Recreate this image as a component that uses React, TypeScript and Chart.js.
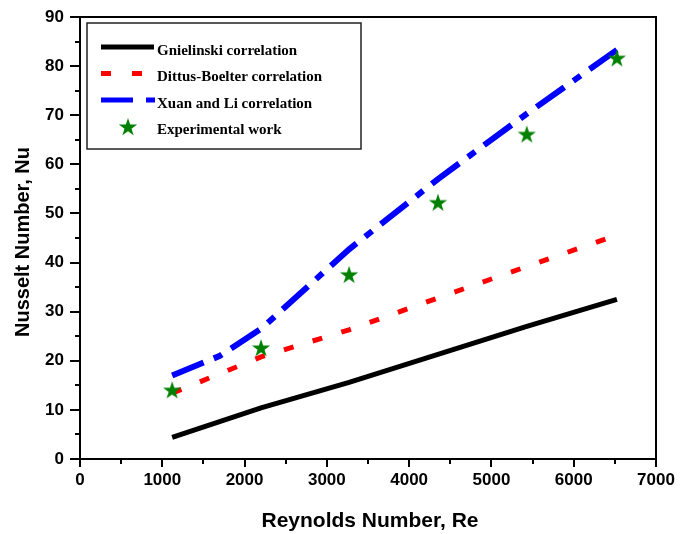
import React, { useEffect, useRef } from "react";
import { Chart, registerables } from "chart.js";

Chart.register(...registerables);

// Reynolds numbers of the test runs
const reynolds = [1120, 2200, 3270, 4350, 5430, 6525];
// Correlation predictions at the same Reynolds numbers
const gnielinski = [4.4, 10.4, 15.6, 21.3, 27.0, 32.5];
const dittusBoelter = [13.4, 20.8, 26.3, 32.8, 39.2, 45.6];
// Xuan and Li correlation (evaluated on a slightly finer Re grid)
const xuanLiRe = [1120, 1700, 2200, 3270, 4350, 5430, 6525];
const xuanLi = [17.0, 21.0, 26.5, 42.7, 57.0, 70.3, 83.3];
// Measured Nusselt numbers
const experimental = [14.0, 22.6, 37.5, 52.2, 66.1, 81.6];

// Axis ticks
const reTicks = [0, 1000, 2000, 3000, 4000, 5000, 6000, 7000];
const reMinorTicks = [500, 1500, 2500, 3500, 4500, 5500, 6500];
const nuTicks = [0, 10, 20, 30, 40, 50, 60, 70, 80, 90];
const nuMinorTicks = [5, 15, 25, 35, 45, 55, 65, 75, 85];

const legendItems = [
  "Gnielinski correlation",
  "Dittus-Boelter correlation",
  "Xuan and Li correlation",
  "Experimental work",
];

const GREEN = "#008000";
const SANS = "'Liberation Sans', Arial, sans-serif";
const SERIF = "'Liberation Serif', 'Times New Roman', serif";

function makeStar(): HTMLCanvasElement {
  const c = document.createElement("canvas");
  c.width = 22;
  c.height = 22;
  const ctx = c.getContext("2d")!;
  const R = 9.6;
  const r = R * 0.382;
  const cx = 11;
  const cy = 11.5;
  ctx.beginPath();
  for (let i = 0; i < 10; i++) {
    const rad = i % 2 === 0 ? R : r;
    const a = -Math.PI / 2 + (i * Math.PI) / 5;
    const x = cx + rad * Math.cos(a);
    const y = cy + rad * Math.sin(a);
    if (i === 0) ctx.moveTo(x, y);
    else ctx.lineTo(x, y);
  }
  ctx.closePath();
  ctx.fillStyle = GREEN;
  ctx.fill();
  return c;
}

const pairs = (xs: number[], ys: number[]) => xs.map((x, i) => ({ x, y: ys[i] }));

export default function App() {
  const canvasRef = useRef<HTMLCanvasElement | null>(null);

  useEffect(() => {
    const canvas = canvasRef.current;
    if (!canvas) return;
    const star = makeStar();

    const decorations = {
      id: "decorations",
      afterDraw(chart: any) {
        const ctx = chart.ctx as CanvasRenderingContext2D;
        const { left, right, top, bottom } = chart.chartArea;
        const xs = chart.scales.x;
        const ys = chart.scales.y;
        ctx.save();

        // top and right frame
        ctx.strokeStyle = "#000";
        ctx.lineWidth = 2;
        ctx.beginPath();
        ctx.moveTo(left, top);
        ctx.lineTo(right, top);
        ctx.lineTo(right, bottom);
        ctx.stroke();

        // minor ticks
        ctx.lineWidth = 2;
        ctx.beginPath();
        reMinorTicks.forEach((v) => {
          const px = Math.round(xs.getPixelForValue(v));
          ctx.moveTo(px, bottom);
          ctx.lineTo(px, bottom + 5);
        });
        nuMinorTicks.forEach((v) => {
          const py = Math.round(ys.getPixelForValue(v));
          ctx.moveTo(left - 5, py);
          ctx.lineTo(left, py);
        });
        ctx.stroke();

        // axis titles
        ctx.fillStyle = "#000";
        ctx.textAlign = "center";
        ctx.textBaseline = "middle";
        ctx.font = `bold 21px ${SANS}`;
        ctx.fillText("Reynolds Number, Re", (left + right) / 2 + 2, 521);
        ctx.save();
        ctx.translate(23, 242);
        ctx.rotate(-Math.PI / 2);
        ctx.font = `bold 20px ${SANS}`;
        ctx.fillText("Nusselt Number, Nu", 0, 0);
        ctx.restore();

        // legend box
        ctx.fillStyle = "#fff";
        ctx.fillRect(87, 23, 274, 126);
        ctx.strokeStyle = "#222";
        ctx.lineWidth = 1.5;
        ctx.strokeRect(87, 23, 274, 126);

        const sampleY = [47, 73.5, 100, 127];
        const textY = [54.5, 81, 107.5, 134];
        ctx.lineWidth = 5;
        ctx.lineCap = "butt";
        // Gnielinski sample
        ctx.strokeStyle = "#000";
        ctx.beginPath();
        ctx.moveTo(101, sampleY[0]);
        ctx.lineTo(154, sampleY[0]);
        ctx.stroke();
        // Dittus-Boelter sample
        ctx.strokeStyle = "#ff0000";
        ctx.beginPath();
        ctx.moveTo(101, sampleY[1]);
        ctx.lineTo(111, sampleY[1]);
        ctx.moveTo(132, sampleY[1]);
        ctx.lineTo(142, sampleY[1]);
        ctx.stroke();
        // Xuan and Li sample
        ctx.strokeStyle = "#0000ff";
        ctx.beginPath();
        ctx.moveTo(101, sampleY[2]);
        ctx.lineTo(133, sampleY[2]);
        ctx.moveTo(146, sampleY[2]);
        ctx.lineTo(155, sampleY[2]);
        ctx.stroke();
        // Experimental sample
        ctx.drawImage(star, 128 - 11, sampleY[3] - 11);

        ctx.fillStyle = "#000";
        ctx.textAlign = "left";
        ctx.textBaseline = "alphabetic";
        ctx.font = `bold 15px ${SERIF}`;
        legendItems.forEach((label, i) => {
          ctx.fillText(label, 157, textY[i]);
        });

        ctx.restore();
      },
    };

    const chart = new Chart(canvas, {
      type: "line",
      data: {
        datasets: [
          {
            label: legendItems[0],
            data: pairs(reynolds, gnielinski),
            borderColor: "#000",
            borderWidth: 5,
            pointRadius: 0,
            fill: false,
            order: 2,
          },
          {
            label: legendItems[1],
            data: pairs(reynolds, dittusBoelter),
            borderColor: "#ff0000",
            borderWidth: 5,
            borderDash: [10, 20],
            pointRadius: 0,
            fill: false,
            order: 2,
          },
          {
            label: legendItems[2],
            data: pairs(xuanLiRe, xuanLi),
            borderColor: "#0000ff",
            borderWidth: 6,
            borderDash: [34, 11, 9, 11],
            pointRadius: 0,
            fill: false,
            order: 2,
          },
          {
            label: legendItems[3],
            data: pairs(reynolds, experimental),
            showLine: false,
            pointStyle: star as any,
            pointRadius: 10,
            borderColor: GREEN,
            backgroundColor: GREEN,
            order: 0,
          },
        ] as any,
      },
      options: {
        responsive: false,
        animation: false,
        devicePixelRatio: 1,
        layout: { padding: { top: 17, right: 24, left: 0, bottom: 0 } },
        plugins: {
          legend: { display: false },
          tooltip: { enabled: false },
        },
        elements: { line: { tension: 0 } },
        scales: {
          x: {
            type: "linear",
            min: 0,
            max: 7000,
            afterBuildTicks: (scale: any) => {
              scale.ticks = reTicks.map((value) => ({ value }));
            },
            afterFit: (scale: any) => {
              scale.height = 75;
            },
            ticks: {
              color: "#000",
              font: { family: SANS, size: 17, weight: "bold" },
              padding: 3,
              maxRotation: 0,
              callback: (v: any) => String(v),
            },
            grid: {
              drawOnChartArea: false,
              drawTicks: true,
              tickLength: 8,
              color: "#000",
              lineWidth: 2,
            },
            border: { display: true, color: "#000", width: 2 },
          },
          y: {
            type: "linear",
            min: 0,
            max: 90,
            afterBuildTicks: (scale: any) => {
              scale.ticks = nuTicks.map((value) => ({ value }));
            },
            afterFit: (scale: any) => {
              scale.width = 80;
            },
            ticks: {
              color: "#000",
              font: { family: SANS, size: 17, weight: "bold" },
              padding: 6,
              callback: (v: any) => String(v),
            },
            grid: {
              drawOnChartArea: false,
              drawTicks: true,
              tickLength: 10,
              color: "#000",
              lineWidth: 2,
            },
            border: { display: true, color: "#000", width: 2 },
          },
        },
      } as any,
      plugins: [decorations],
    });

    return () => chart.destroy();
  }, []);

  return (
    <div style={{ position: "absolute", left: 0, top: 0, width: 680, height: 534, background: "#fff" }}>
      <canvas ref={canvasRef} width={680} height={534} style={{ display: "block" }} />
    </div>
  );
}
